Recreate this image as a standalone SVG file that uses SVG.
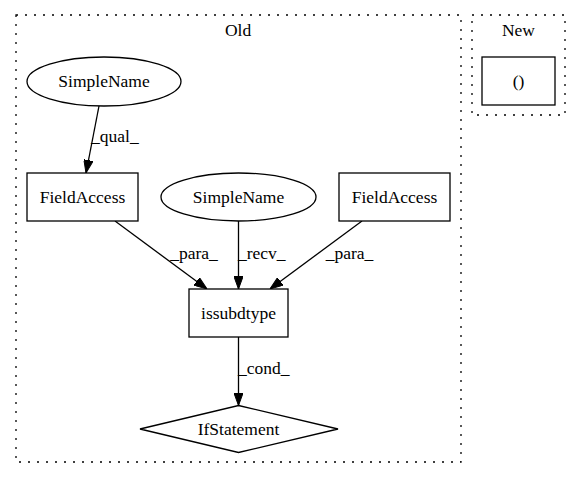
<svg xmlns="http://www.w3.org/2000/svg" width="581" height="480" viewBox="0 0 581 480">
<style>
text{font-family:"Liberation Serif","Times New Roman",serif;font-size:17.5px;fill:#000;text-anchor:middle}
.cl{fill:none;stroke:#000;stroke-width:1.3;stroke-dasharray:2,7}
.n{fill:#fff;stroke:#000;stroke-width:1.3}
.e{fill:none;stroke:#000;stroke-width:1.3}
.lbl{text-anchor:start}
</style>
<defs>
<marker id="a" viewBox="0 0 13 9.5" refX="13" refY="4.75" markerWidth="13" markerHeight="9.5" orient="auto" markerUnits="userSpaceOnUse">
<path d="M0,0 L13,4.75 L0,9.5 z" fill="#000" stroke="#000" stroke-width="1"/>
</marker>
</defs>
<rect width="581" height="480" fill="#fff"/>
<g id="cluster_old">
<rect class="cl" x="16" y="15" width="445" height="447"/>
<text x="238" y="36">Old</text>
</g>
<g id="cluster_new">
<rect class="cl" x="472" y="15" width="93" height="100"/>
<text x="518.5" y="36">New</text>
</g>
<g id="edges">
<path class="e" d="M99,106 L86,173" marker-end="url(#a)"/>
<text class="lbl" x="91" y="142">_qual_</text>
<path class="e" d="M115,221 L207,289" marker-end="url(#a)"/>
<text x="194" y="259">_para_</text>
<path class="e" d="M238.5,221 L238.5,289" marker-end="url(#a)"/>
<text class="lbl" x="238" y="259">_recv_</text>
<path class="e" d="M362,221 L270,289" marker-end="url(#a)"/>
<text x="349.5" y="259">_para_</text>
<path class="e" d="M238.5,337 L238.5,405.5" marker-end="url(#a)"/>
<text class="lbl" x="238" y="374">_cond_</text>
</g>
<g id="n_simplename1">
<ellipse class="n" cx="104" cy="81.5" rx="77" ry="24.5"/>
<text x="104" y="87">SimpleName</text>
</g>
<g id="n_fieldaccess1">
<rect class="n" x="27" y="173" width="111" height="48"/>
<text x="82.5" y="203">FieldAccess</text>
</g>
<g id="n_simplename2">
<ellipse class="n" cx="238.5" cy="197" rx="77.5" ry="24"/>
<text x="238.5" y="203">SimpleName</text>
</g>
<g id="n_fieldaccess2">
<rect class="n" x="339" y="173" width="111" height="48"/>
<text x="394.5" y="203">FieldAccess</text>
</g>
<g id="n_issubdtype">
<rect class="n" x="189" y="289" width="99" height="48"/>
<text x="238.5" y="319">issubdtype</text>
</g>
<g id="n_ifstatement">
<polygon class="n" points="238.5,405.5 338,429 238.5,452.5 140,429"/>
<text x="238.5" y="435">IfStatement</text>
</g>
<g id="n_paren">
<rect class="n" x="482" y="57" width="73" height="48"/>
<text x="518.5" y="87">()</text>
</g>
</svg>
